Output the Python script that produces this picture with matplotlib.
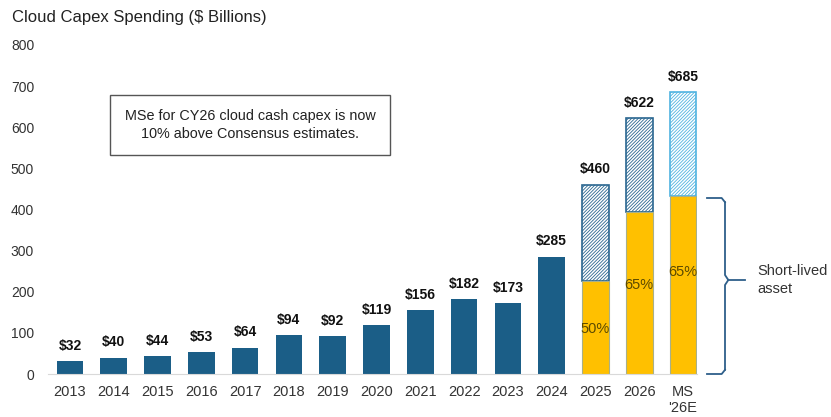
import matplotlib.pyplot as plt
from matplotlib.patches import Rectangle

plt.rcParams['font.family'] = ['Liberation Sans', 'DejaVu Sans']
plt.rcParams['hatch.linewidth'] = 0.6

years = ['2013', '2014', '2015', '2016', '2017', '2018', '2019', '2020',
         '2021', '2022', '2023', '2024', '2025', '2026', "MS\n'26E"]
capex = [32, 40, 44, 53, 64, 94, 92, 119, 156, 182, 173, 285, 460, 622, 685]
value_labels = ['$32', '$40', '$44', '$53', '$64', '$94', '$92', '$119', '$156',
                '$182', '$173', '$285', '$460', '$622', '$685']
# short-lived asset portion for the last three bars
short_idx = [12, 13, 14]
short_lived = [225, 395, 432]
short_pct = ['50%', '65%', '65%']
pct_label_y = [110, 217, 248]

dark_blue = '#1b5e87'
yellow = '#ffc000'
light_blue = '#4fb3e0'

fig = plt.figure(figsize=(8.31, 4.17), dpi=100)
ax = fig.add_axes([0.0578, 0.1031, 0.781, 0.789])

x = list(range(len(years)))
w = 0.61

# plain bars
for i in range(12):
    ax.bar(x[i], capex[i], width=w, color=dark_blue)

# hatched totals with yellow short-lived part
for k, i in enumerate(short_idx):
    ec = light_blue if i == 14 else '#2a6690'
    ax.bar(x[i], capex[i] - short_lived[k], bottom=short_lived[k], width=w,
           facecolor='white', edgecolor=ec, hatch='//////////', linewidth=1.2)
    ax.bar(x[i], short_lived[k], width=w, color=yellow, edgecolor='#a8b08a', linewidth=0.8)
    ax.text(x[i], pct_label_y[k], short_pct[k], ha='center', va='center',
            fontsize=10.5, color='#5c4a00')

for i in x:
    ax.annotate(value_labels[i], (x[i], capex[i]), xytext=(0, 6), textcoords='offset points',
                ha='center', va='bottom', fontsize=10, fontweight='bold', color='#111111')

ax.set_xlim(-0.5, 14.32)
ax.set_ylim(0, 800)
ax.set_yticks(range(0, 801, 100))
ax.set_xticks(x)
ax.set_xticklabels(years)
ax.tick_params(axis='both', length=0, labelsize=10, colors='#333333')
ax.tick_params(axis='x', labelsize=10.5, pad=8)
ax.tick_params(axis='y', pad=10)
for s in ['top', 'right', 'left']:
    ax.spines[s].set_visible(False)
ax.spines['bottom'].set_color('#d9d9d9')

fig.text(0.0145, 0.958, 'Cloud Capex Spending ($ Billions)', fontsize=12, color='#222222',
         ha='left', va='center')

# callout box
fig.add_artist(Rectangle((110 / 831, 1 - 155 / 417), 280 / 831, 60 / 417,
                         transform=fig.transFigure, facecolor='white',
                         edgecolor='#555555', linewidth=1.0))
fig.text(250 / 831, 1 - 125 / 417,
         'MSe for CY26 cloud cash capex is now\n10% above Consensus estimates.',
         ha='center', va='center', fontsize=10.4, color='#222222', linespacing=1.3)

# brace for short-lived asset
bx0 = 707 / 831
bx1 = 725 / 831
bx2 = 745 / 831
ytop = 1 - 198 / 417
ybot = 1 - 374 / 417
ymid = 1 - 280 / 417
bc = '#2e5f8a'
fig.add_artist(plt.Line2D([bx0, bx1 - 0.004, bx1], [ytop, ytop, ytop - 0.01], color=bc, lw=1.3))
fig.add_artist(plt.Line2D([bx0, bx1 - 0.004, bx1], [ybot, ybot, ybot + 0.01], color=bc, lw=1.3))
fig.add_artist(plt.Line2D([bx1, bx1, bx1 + 0.004, bx2], [ytop - 0.01, ymid + 0.012, ymid, ymid], color=bc, lw=1.3))
fig.add_artist(plt.Line2D([bx1, bx1, bx1 + 0.004], [ybot + 0.01, ymid - 0.012, ymid], color=bc, lw=1.3))
fig.text(757 / 831, ymid, 'Short-lived\nasset', fontsize=10.5, color='#333333',
         ha='left', va='center', linespacing=1.3)

fig.savefig('out.png', dpi=100)
